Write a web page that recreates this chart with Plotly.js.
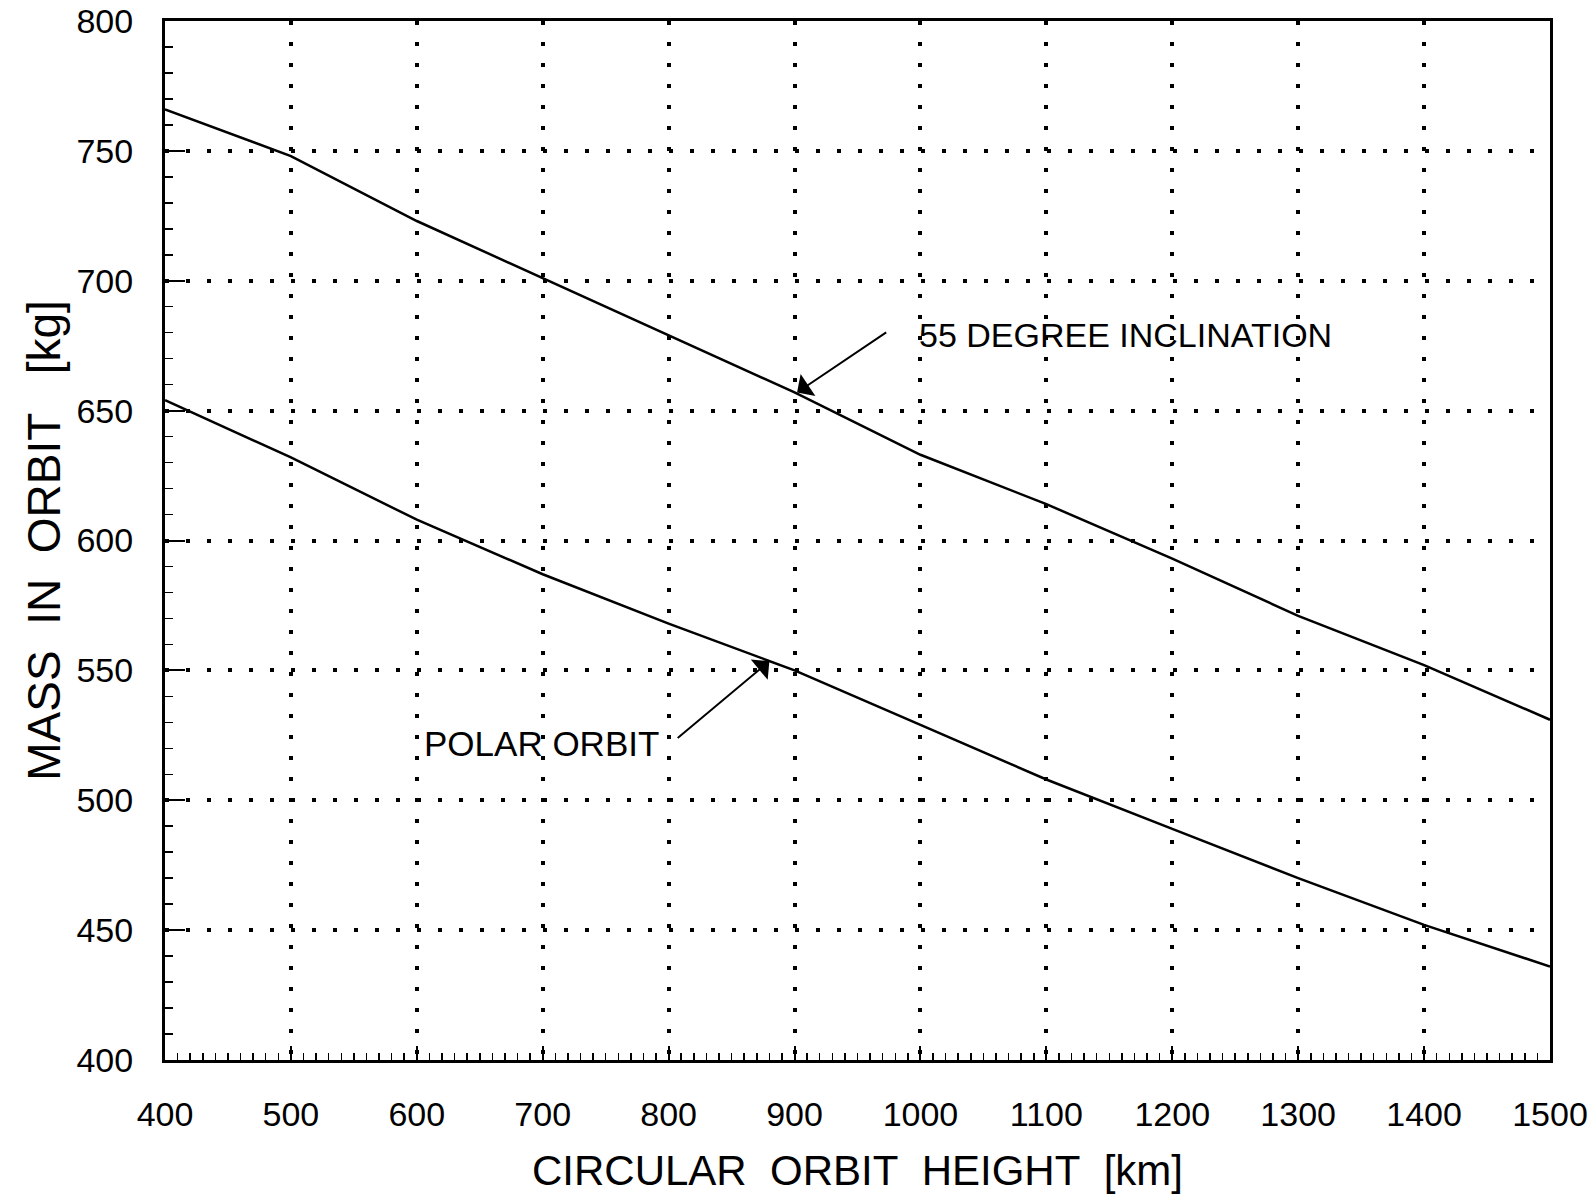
<!DOCTYPE html>
<html>
<head>
<meta charset="utf-8">
<script src="https://cdn.plot.ly/plotly-3.0.1.min.js"></script>
<style>
  html, body { margin: 0; padding: 0; background: #ffffff; }
  #chart { width: 1592px; height: 1203px; }
</style>
</head>
<body>
<div id="chart"></div>
<script>
// Orbit height [km]
const heights = [400, 500, 600, 700, 800, 900, 1000, 1100, 1200, 1300, 1400, 1500];
// Mass in orbit [kg], 55 degree inclination
const mass55 = [766, 748, 723, 701, 679, 657, 633, 614, 593, 571, 552, 531];
// Mass in orbit [kg], polar orbit
const massPolar = [654, 632, 608, 587, 568, 550, 529, 508, 489, 470, 452, 436];

const xTickVals = [400, 500, 600, 700, 800, 900, 1000, 1100, 1200, 1300, 1400, 1500];
const yTickVals = [400, 450, 500, 550, 600, 650, 700, 750, 800];

// Annotation anchors (data coordinates)
const label55 = {text: "55 DEGREE INCLINATION", x: 997, y: 679, tipX: 902, tipY: 657, tailX: 974, tailY: 680.5, size: 34};
const labelPolar = {text: "POLAR ORBIT", x: 604, y: 522, tipX: 880, tipY: 553.5, tailX: 806, tailY: 523.5, size: 35};

const lineStyle = {color: "#000000", width: 2.5};

const traces = [
  {x: heights, y: mass55, type: "scatter", mode: "lines", line: lineStyle, name: "55 DEGREE INCLINATION", hoverinfo: "x+y"},
  {x: heights, y: massPolar, type: "scatter", mode: "lines", line: lineStyle, name: "POLAR ORBIT", hoverinfo: "x+y"}
];

const baseFont = "Liberation Sans, Arial, sans-serif";

function labelAnn(l) {
  return {x: l.x, y: l.y, xref: "x", yref: "y", text: l.text, showarrow: false,
          xanchor: "left", yanchor: "middle", font: {family: baseFont, size: l.size, color: "#000"}};
}
function arrowAnn(l) {
  return {x: l.tipX, y: l.tipY, xref: "x", yref: "y", ax: l.tailX, ay: l.tailY, axref: "x", ayref: "y",
          text: "", showarrow: true, arrowhead: 1, arrowsize: 2.2, arrowwidth: 2, arrowcolor: "#000"};
}

const gridDash = "4px,17px";

const layout = {
  width: 1592,
  height: 1203,
  margin: {l: 165, r: 42, t: 21, b: 143},
  paper_bgcolor: "#ffffff",
  plot_bgcolor: "#ffffff",
  showlegend: false,
  font: {family: baseFont, color: "#000000"},
  xaxis: {
    range: [400, 1500],
    tickvals: xTickVals,
    ticktext: xTickVals.map(String),
    ticks: "inside", ticklen: 14, tickwidth: 2, tickcolor: "#000",
    showline: true, linewidth: 3, linecolor: "#000", mirror: true,
    showgrid: true, gridcolor: "#000", gridwidth: 4, griddash: gridDash,
    zeroline: false,
    minor: {dtick: 10, tick0: 400, ticks: "inside", ticklen: 7, tickwidth: 1.5, tickcolor: "#000", showgrid: false},
    tickfont: {family: baseFont, size: 34, color: "#000"},
    ticklabelstandoff: 22,
    ticklabeloverflow: "allow",
    title: {text: "CIRCULAR&nbsp; ORBIT&nbsp; HEIGHT&nbsp; [km]", font: {family: baseFont, size: 42, color: "#000"}, standoff: 24}
  },
  yaxis: {
    range: [400, 800],
    tickvals: yTickVals,
    ticktext: yTickVals.map(String),
    ticks: "inside", ticklen: 20, tickwidth: 2, tickcolor: "#000",
    showline: true, linewidth: 3, linecolor: "#000", mirror: true,
    showgrid: true, gridcolor: "#000", gridwidth: 4, griddash: gridDash,
    zeroline: false,
    minor: {dtick: 10, tick0: 400, ticks: "inside", ticklen: 8, tickwidth: 1.5, tickcolor: "#000", showgrid: false},
    tickfont: {family: baseFont, size: 34, color: "#000"},
    ticklabelstandoff: 22,
    ticklabeloverflow: "allow",
    title: {text: "MASS&nbsp; IN&nbsp; ORBIT&nbsp;&nbsp; [kg]", font: {family: baseFont, size: 46, color: "#000"}, standoff: 2}
  },
  annotations: [labelAnn(label55), arrowAnn(label55), labelAnn(labelPolar), arrowAnn(labelPolar)]
};

Plotly.newPlot("chart", traces, layout, {displayModeBar: false, staticPlot: true});
</script>
</body>
</html>
